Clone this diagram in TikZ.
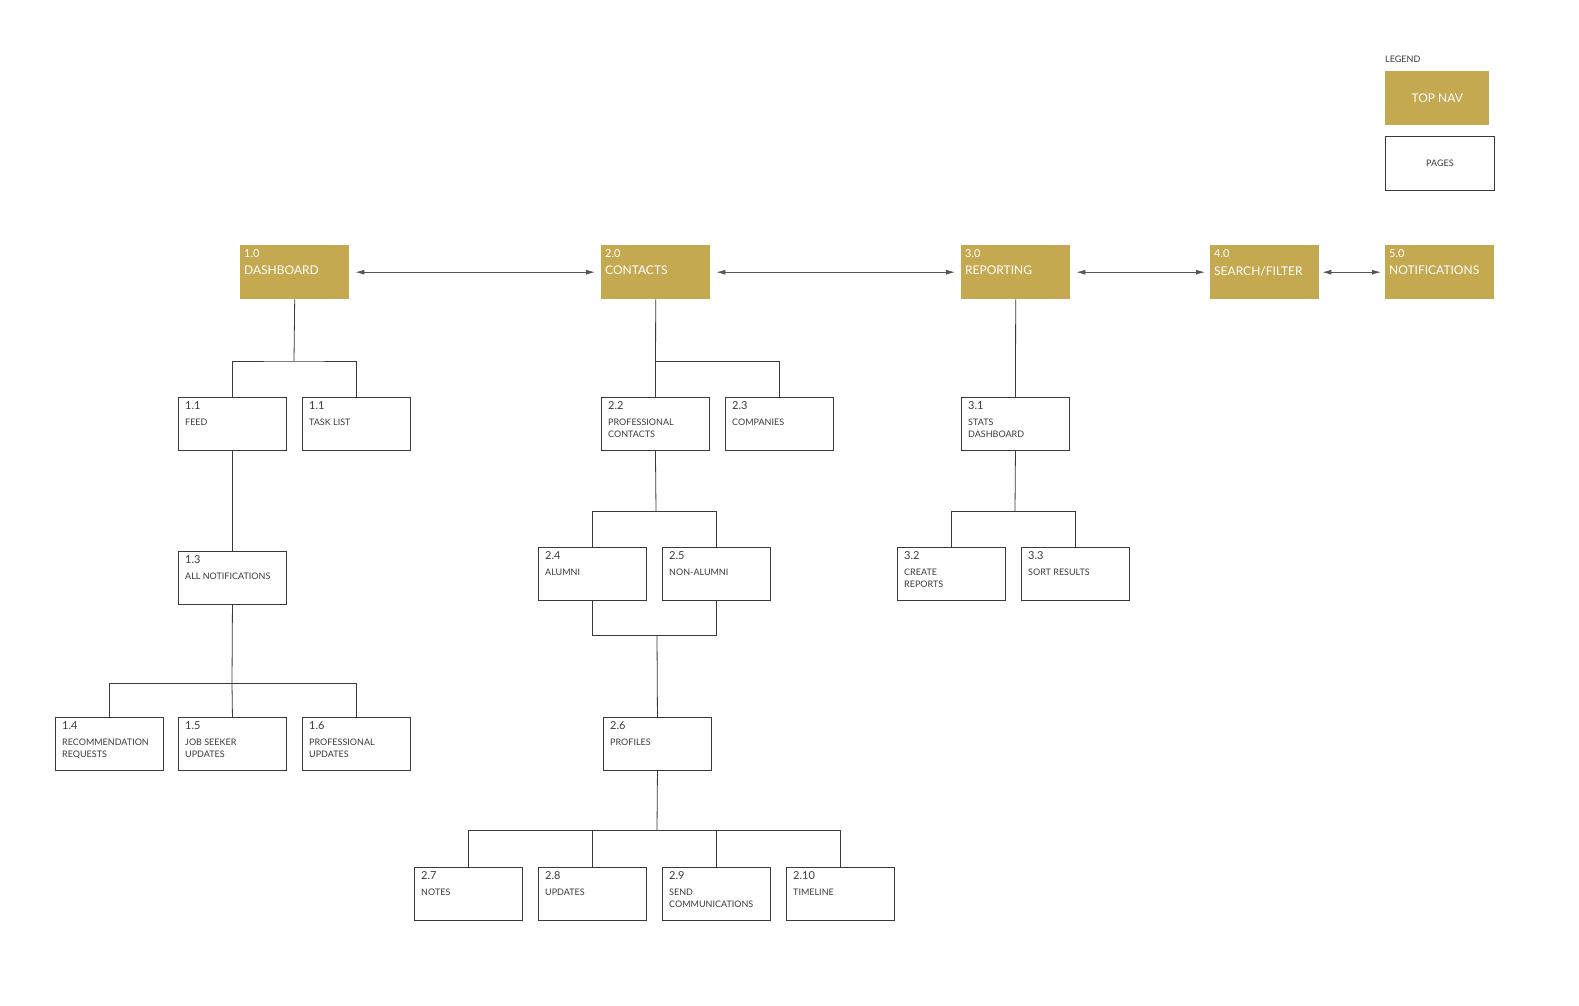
\documentclass[tikz,border=0pt]{standalone}
\usepackage{fontspec}
\setmainfont{Lato}
\usetikzlibrary{arrows.meta}
\definecolor{gold}{HTML}{C4A951}
\definecolor{ink}{HTML}{3A3A3A}
\definecolor{lne}{HTML}{555555}
\tikzset{x=1pt,y=-1pt,
 pagebox/.style={draw=ink,line width=0.9pt,fill=white,anchor=north west,minimum width=108pt,minimum height=53pt,inner sep=0pt},
 navbox/.style={fill=gold,anchor=north west,minimum width=109pt,minimum height=54pt,inner sep=0pt},
 numtxt/.style={anchor=north west,inner sep=0pt,font=\fontsize{11}{12}\selectfont,text=ink},
 labtxt/.style={anchor=north west,inner sep=0pt,align=left,font=\fontsize{9}{11.5}\selectfont,text=ink},
 navnum/.style={anchor=north west,inner sep=0pt,font=\fontsize{11}{12}\selectfont,text=white},
 navlab/.style={anchor=north west,inner sep=0pt,font=\fontsize{12}{13}\selectfont,text=white},
 conn/.style={draw=ink,line width=0.8pt},
 biarrow/.style={draw=lne,line width=0.9pt,{Latex[length=9pt,width=5pt]}-{Latex[length=9pt,width=5pt]}}
}
\newcommand{\pg}[5]{\node[pagebox] (#1) at (#2,#3) {};
 \node[numtxt] at (#2+7,#3+4) {#4};
 \node[labtxt] at (#2+7,#3+22) {#5};}
\newcommand{\nv}[5]{\node[navbox] (#1) at (#2,#3) {};
 \node[navnum] at (#2+4,#3+4) {#4};
 \node[navlab] at (#2+4,#3+21) {#5};}
\begin{document}
\begin{tikzpicture}
\useasboundingbox (0,0) rectangle (1579,1005);
\fill[white] (0,0) rectangle (1579,1005);
% legend
\node[anchor=west,inner sep=0pt,font=\fontsize{9}{10}\selectfont,text=ink] (leg) at (1385,59) {LEGEND};
\node[fill=gold,anchor=north west,minimum width=104pt,minimum height=54pt,inner sep=0pt,font=\fontsize{12}{13}\selectfont,text=white] (lnav) at (1385,71) {TOP NAV};
\node[pagebox,minimum width=109pt,minimum height=54pt,font=\fontsize{9}{10}\selectfont,text=ink] (lpg) at (1385,136) {PAGES};
% top nav
\nv{d10}{240}{245}{1.0}{DASHBOARD}
\nv{d20}{601}{245}{2.0}{CONTACTS}
\nv{d30}{961}{245}{3.0}{REPORTING}
\nv{d40}{1210}{245}{4.0}{SEARCH/FILTER}
\nv{d50}{1385}{245}{5.0}{NOTIFICATIONS}
\draw[biarrow] ([xshift=6pt]d10.east) -- ([xshift=-6pt]d20.west);
\draw[biarrow] ([xshift=6pt]d20.east) -- ([xshift=-6pt]d30.west);
\draw[biarrow] ([xshift=6pt]d30.east) -- ([xshift=-5pt]d40.west);
\draw[biarrow] ([xshift=3pt]d40.east) -- ([xshift=-4pt]d50.west);
% pages
\pg{p11}{178}{397}{1.1}{FEED}
\pg{p12}{302}{397}{1.1}{TASK LIST}
\pg{p22}{601}{397}{2.2}{PROFESSIONAL\\CONTACTS}
\pg{p23}{725}{397}{2.3}{COMPANIES}
\pg{p31}{961}{397}{3.1}{STATS\\DASHBOARD}
\pg{p13}{178}{551}{1.3}{ALL NOTIFICATIONS}
\pg{p24}{538}{547}{2.4}{ALUMNI}
\pg{p25}{662}{547}{2.5}{NON-ALUMNI}
\pg{p32}{897}{547}{3.2}{CREATE\\REPORTS}
\pg{p33}{1021}{547}{3.3}{SORT RESULTS}
\pg{p14}{55}{717}{1.4}{RECOMMENDATION\\REQUESTS}
\pg{p15}{178}{717}{1.5}{JOB SEEKER\\UPDATES}
\pg{p16}{302}{717}{1.6}{PROFESSIONAL\\UPDATES}
\pg{p26}{603}{717}{2.6}{PROFILES}
\pg{p27}{414}{867}{2.7}{NOTES}
\pg{p28}{538}{867}{2.8}{UPDATES}
\pg{p29}{662}{867}{2.9}{SEND\\COMMUNICATIONS}
\pg{p210}{786}{867}{2.10}{TIMELINE}
% connectors
\coordinate (j1) at (294,361);
\draw[conn] (d10.south) -- (j1);
\draw[conn] (p11.north) |- (j1) -| (p12.north);
\draw[conn] (p11.south) -- (p13.north);
\coordinate (j2) at (232,683);
\draw[conn] (p13.south) -- (j2);
\draw[conn] (p14.north) |- (j2) -| (p16.north);
\draw[conn] (p15.north) -- (j2);
\coordinate (j3) at (656,361);
\draw[conn] (d20.south) -- (p22.north);
\draw[conn] (j3) -| (p23.north);
\coordinate (j4) at (656,511);
\draw[conn] (p22.south) -- (j4);
\draw[conn] (p24.north) |- (j4) -| (p25.north);
\coordinate (j5) at (657,635);
\draw[conn] (p24.south) |- (j5) -| (p25.south);
\draw[conn] (j5) -- (p26.north);
\coordinate (j6) at (657,830);
\draw[conn] (p26.south) -- (j6);
\draw[conn] (p27.north) |- (j6) -| (p210.north);
\draw[conn] (p28.north) -- (p28.north |- j6);
\draw[conn] (p29.north) -- (p29.north |- j6);
\draw[conn] (d30.south) -- (p31.north);
\coordinate (j7) at (1015,511);
\draw[conn] (p31.south) -- (j7);
\draw[conn] (p32.north) |- (j7) -| (p33.north);
\end{tikzpicture}
\end{document}
